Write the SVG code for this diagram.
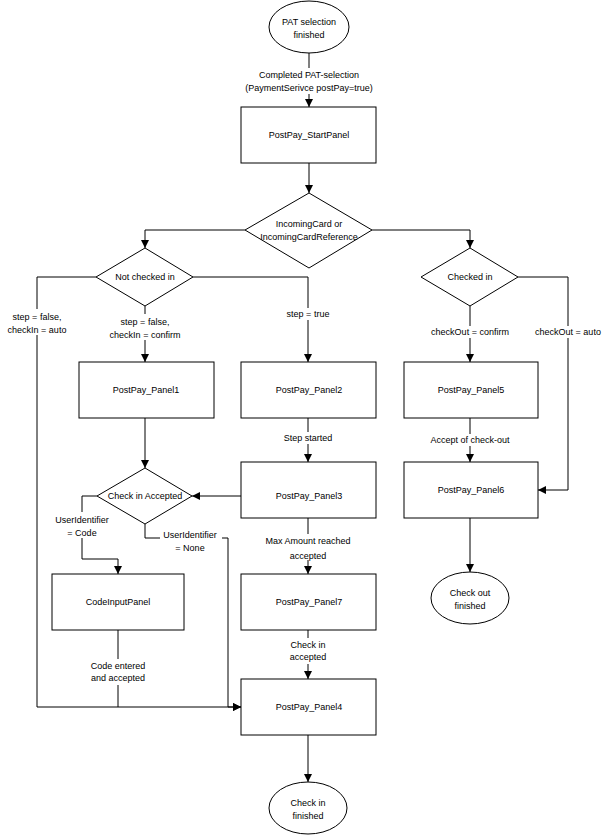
<svg xmlns="http://www.w3.org/2000/svg" width="611" height="840" viewBox="0 0 611 840">
<style>
.s{fill:#fff;stroke:#000;stroke-width:1}
.l{fill:none;stroke:#000;stroke-width:1}
text{font-family:"Liberation Sans",Arial,sans-serif;font-size:9px;text-anchor:middle;fill:#000}
.bg{fill:#fff}
</style>
<defs><marker id="a" viewBox="0 0 10 10" refX="10" refY="5" markerWidth="8" markerHeight="8" markerUnits="userSpaceOnUse" orient="auto"><path d="M0,0L10,5L0,10z"/></marker></defs>
<rect width="611" height="840" fill="#fff"/>
<g id="connectors">
<path class="l" d="M309,53V107" marker-end="url(#a)"/>
<path class="l" d="M309,163V193" marker-end="url(#a)"/>
<path class="l" d="M245,230H145V248" marker-end="url(#a)"/>
<path class="l" d="M372,230H470V248" marker-end="url(#a)"/>
<path class="l" d="M96,277H37V707H241" marker-end="url(#a)"/>
<path class="l" d="M145,306V362" marker-end="url(#a)"/>
<path class="l" d="M193,277H308V362" marker-end="url(#a)"/>
<path class="l" d="M470,306V362" marker-end="url(#a)"/>
<path class="l" d="M518,277H568V490H538" marker-end="url(#a)"/>
<path class="l" d="M470,418V462" marker-end="url(#a)"/>
<path class="l" d="M470,518V572" marker-end="url(#a)"/>
<path class="l" d="M145,418V468" marker-end="url(#a)"/>
<path class="l" d="M308,418V462" marker-end="url(#a)"/>
<path class="l" d="M241,496H192" marker-end="url(#a)"/>
<path class="l" d="M97,496H82V559H118V574" marker-end="url(#a)"/>
<path class="l" d="M145,524V538H228V707H241" marker-end="url(#a)"/>
<path class="l" d="M118,630V707"/>
<path class="l" d="M308,518V574" marker-end="url(#a)"/>
<path class="l" d="M308,630V679" marker-end="url(#a)"/>
<path class="l" d="M308,735V782" marker-end="url(#a)"/>
<rect class="bg" x="250" y="68" width="118" height="26"/>
<text x="309" y="78">Completed PAT-selection</text><text x="309" y="91">(PaymentSerivce postPay=true)</text>
<rect class="bg" x="6" y="309" width="62" height="26"/>
<text x="37" y="320">step = false,</text><text x="37" y="333">checkIn = auto</text>
<rect class="bg" x="100" y="314" width="90" height="26"/>
<text x="145" y="325">step = false,</text><text x="145" y="338">checkIn = confirm</text>
<rect class="bg" x="280" y="308" width="56" height="12"/>
<text x="308" y="317">step = true</text>
<rect class="bg" x="426" y="326" width="88" height="12"/>
<text x="470" y="335">checkOut = confirm</text>
<rect class="bg" x="532" y="326" width="72" height="12"/>
<text x="568" y="335">checkOut = auto</text>
<rect class="bg" x="424" y="434" width="92" height="12"/>
<text x="470" y="443">Accept of check-out</text>
<rect class="bg" x="280" y="432" width="56" height="12"/>
<text x="308" y="441">Step started</text>
<rect class="bg" x="50" y="512" width="64" height="26"/>
<text x="82" y="523">UserIdentifier</text><text x="82" y="536">= Code</text>
<rect class="bg" x="160" y="527" width="62" height="26"/>
<text x="190" y="538">UserIdentifier</text><text x="190" y="551">= None</text>
<rect class="bg" x="260" y="534" width="96" height="26"/>
<text x="308" y="544">Max Amount reached</text><text x="308" y="559">accepted</text>
<rect class="bg" x="284" y="638" width="48" height="26"/>
<text x="308" y="648">Check in</text><text x="308" y="660">accepted</text>
<rect class="bg" x="86" y="659" width="64" height="26"/>
<text x="118" y="669">Code entered</text><text x="118" y="681">and accepted</text>
</g>
<g id="start"><ellipse class="s" cx="309" cy="27" rx="40" ry="26"/><text x="309" y="25">PAT selection</text><text x="309" y="38">finished</text></g>
<g id="startpanel"><rect class="s" x="241" y="107" width="135" height="56"/><text x="309" y="138">PostPay_StartPanel</text></g>
<g id="incoming"><path class="s" d="M309,193L372,230L309,268L245,230Z"/><text x="309" y="227">IncomingCard or</text><text x="309" y="240">IncomingCardReference</text></g>
<g id="notchecked"><path class="s" d="M145,248L193,277L145,306L96,277Z"/><text x="145" y="280">Not checked in</text></g>
<g id="checkedin"><path class="s" d="M470,248L518,277L470,306L421,277Z"/><text x="470" y="280">Checked in</text></g>
<g id="p1"><rect class="s" x="79" y="362" width="135" height="56"/><text x="146" y="393">PostPay_Panel1</text></g>
<g id="p2"><rect class="s" x="241" y="362" width="135" height="56"/><text x="309" y="393">PostPay_Panel2</text></g>
<g id="p5"><rect class="s" x="404" y="362" width="134" height="56"/><text x="471" y="393">PostPay_Panel5</text></g>
<g id="p6"><rect class="s" x="404" y="462" width="134" height="56"/><text x="471" y="493">PostPay_Panel6</text></g>
<g id="p3"><rect class="s" x="241" y="462" width="135" height="56"/><text x="309" y="499">PostPay_Panel3</text></g>
<g id="cia"><path class="s" d="M145,468L192,496L145,524L97,496Z"/><text x="145" y="499">Check in Accepted</text></g>
<g id="code"><rect class="s" x="52" y="574" width="132" height="56"/><text x="118" y="605">CodeInputPanel</text></g>
<g id="p7"><rect class="s" x="241" y="574" width="135" height="56"/><text x="309" y="605">PostPay_Panel7</text></g>
<g id="p4"><rect class="s" x="241" y="679" width="135" height="56"/><text x="309" y="710">PostPay_Panel4</text></g>
<g id="coend"><ellipse class="s" cx="470" cy="598" rx="39" ry="26"/><text x="470" y="596">Check out</text><text x="470" y="609">finished</text></g>
<g id="ciend"><ellipse class="s" cx="308" cy="808" rx="39" ry="26"/><text x="308" y="806">Check in</text><text x="308" y="819">finished</text></g>
</svg>
